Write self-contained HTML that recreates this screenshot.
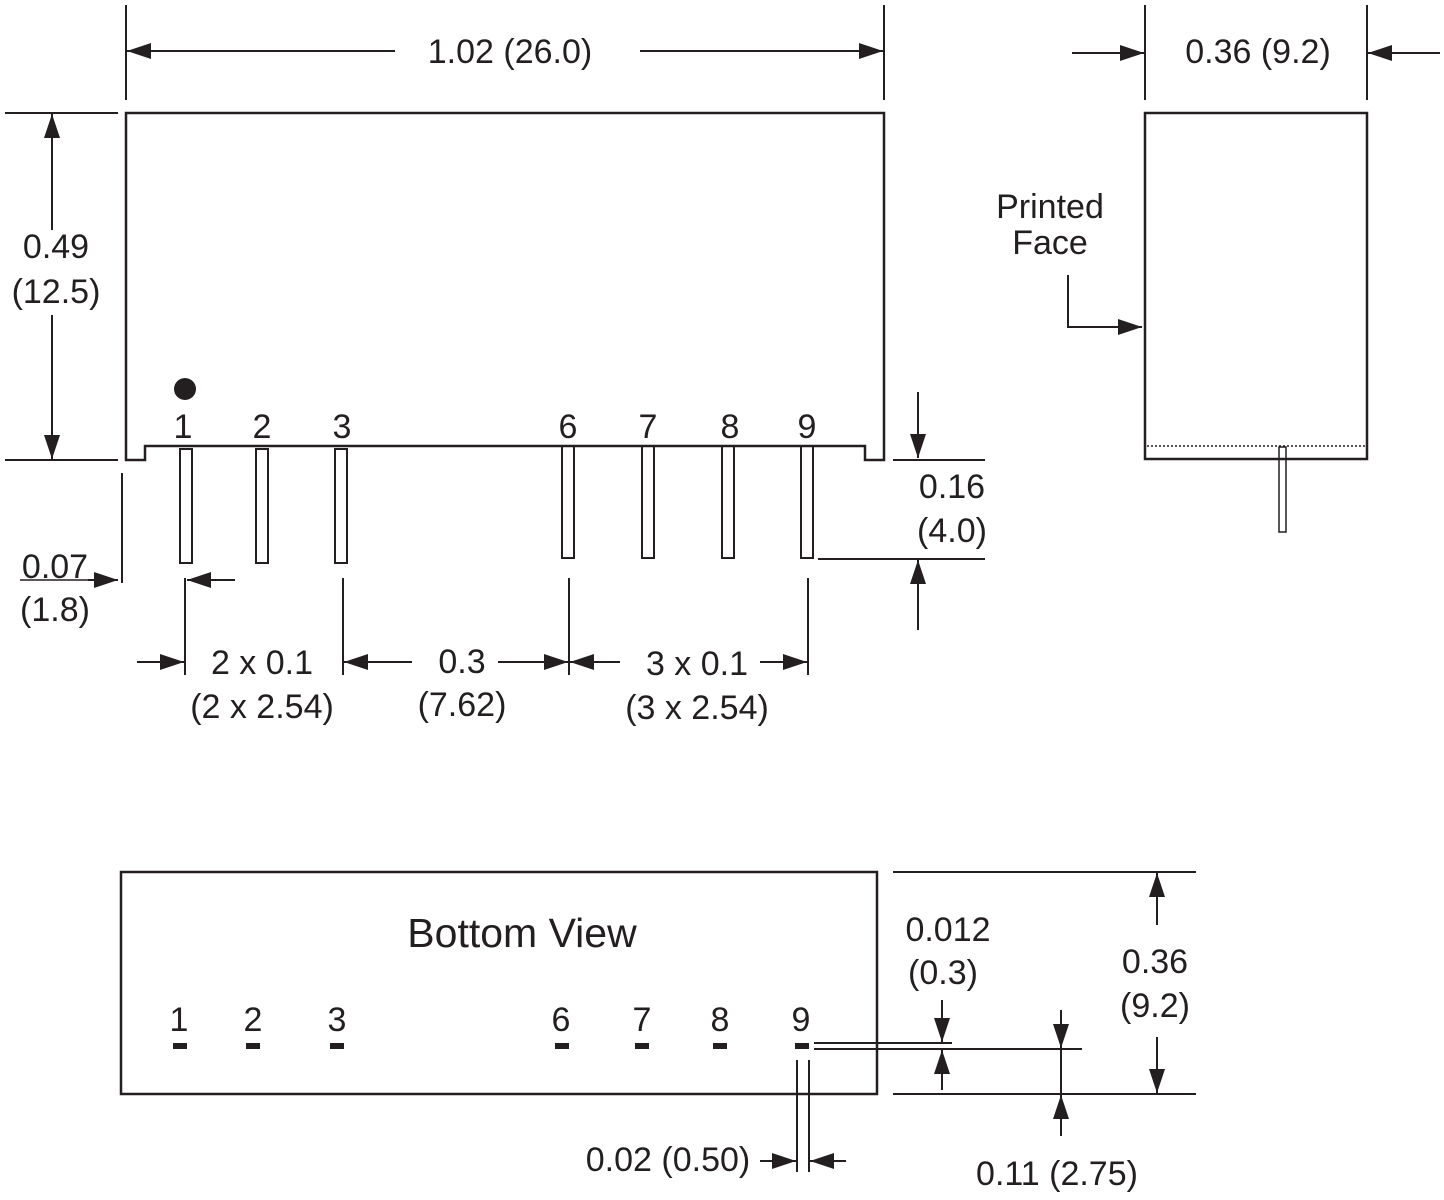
<!DOCTYPE html>
<html><head><style>
html,body{margin:0;padding:0;background:#fff}
svg{display:block}
text{font-family:"Liberation Sans",Arial,sans-serif;font-size:34px;fill:#231f20;text-anchor:middle}
</style></head><body>
<svg width="1444" height="1200" viewBox="0 0 1444 1200" xmlns="http://www.w3.org/2000/svg">
<defs>
<marker id="a" viewBox="0 0 24 16" refX="24" refY="8" markerWidth="24" markerHeight="16" markerUnits="userSpaceOnUse" orient="auto"><path d="M0,0 L24,8 L0,16 Z" fill="#231f20"/></marker>
</defs>
<g stroke="#231f20" stroke-width="2" fill="none">
<path d="M126,460 L126,113 L884,113 L884,460 L865,460 L865,446 L145,446 L145,460 Z" stroke-width="2.5"/>
<rect x="180" y="449" width="12" height="114"/>
<rect x="256" y="449" width="12" height="114"/>
<rect x="335" y="449" width="12" height="114"/>
<rect x="562" y="446" width="12" height="112"/>
<rect x="642" y="446" width="12" height="112"/>
<rect x="722" y="446" width="12" height="112"/>
<rect x="801" y="446" width="12" height="112"/>
<line x1="126" y1="5" x2="126" y2="100"/>
<line x1="884" y1="5" x2="884" y2="100"/>
<line x1="395" y1="51" x2="127" y2="51" marker-end="url(#a)"/>
<line x1="640" y1="51" x2="883" y2="51" marker-end="url(#a)"/>
<line x1="5" y1="113" x2="118" y2="113"/>
<line x1="5" y1="460" x2="118" y2="460"/>
<line x1="52" y1="230" x2="52" y2="114" marker-end="url(#a)"/>
<line x1="52" y1="315" x2="52" y2="459" marker-end="url(#a)"/>
<rect x="1145" y="113" width="222" height="346" stroke-width="2.5"/>
<line x1="1147" y1="446" x2="1365" y2="446" stroke-dasharray="2,2" stroke-width="1.5"/>
<rect x="1279" y="447" width="7" height="85" stroke-width="1.5"/>
<line x1="1145" y1="5" x2="1145" y2="100"/>
<line x1="1367" y1="5" x2="1367" y2="100"/>
<line x1="1072" y1="53" x2="1144" y2="53" marker-end="url(#a)"/>
<line x1="1440" y1="53" x2="1368" y2="53" marker-end="url(#a)"/>
<path d="M1068,275 L1068,327 L1142,327" marker-end="url(#a)"/>
<line x1="918" y1="392" x2="918" y2="458" marker-end="url(#a)"/>
<line x1="893" y1="460" x2="985" y2="460"/>
<line x1="818" y1="559" x2="985" y2="559"/>
<line x1="918" y1="630" x2="918" y2="560" marker-end="url(#a)"/>
<line x1="20" y1="580" x2="90" y2="580" stroke-width="1.5"/>
<line x1="88" y1="580" x2="118" y2="580" marker-end="url(#a)"/>
<line x1="122" y1="473" x2="122" y2="583"/>
<line x1="235" y1="580" x2="187" y2="580" marker-end="url(#a)"/>
<line x1="185" y1="578" x2="185" y2="675"/>
<line x1="343" y1="578" x2="343" y2="675"/>
<line x1="569" y1="578" x2="569" y2="675"/>
<line x1="808" y1="578" x2="808" y2="675"/>
<line x1="137" y1="662" x2="184" y2="662" marker-end="url(#a)"/>
<line x1="412" y1="662" x2="344" y2="662" marker-end="url(#a)"/>
<line x1="498" y1="662" x2="568" y2="662" marker-end="url(#a)"/>
<line x1="620" y1="662" x2="570" y2="662" marker-end="url(#a)"/>
<line x1="760" y1="662" x2="807" y2="662" marker-end="url(#a)"/>
<rect x="121" y="872" width="756" height="222" stroke-width="2.5"/>
<line x1="893" y1="872" x2="1196" y2="872"/>
<line x1="893" y1="1094" x2="1196" y2="1094"/>
<line x1="1157" y1="925" x2="1157" y2="873" marker-end="url(#a)"/>
<line x1="1157" y1="1037" x2="1157" y2="1093" marker-end="url(#a)"/>
<line x1="814" y1="1043" x2="952" y2="1043"/>
<line x1="814" y1="1049" x2="1082" y2="1049"/>
<line x1="942" y1="1000" x2="942" y2="1042" marker-end="url(#a)"/>
<line x1="942" y1="1090" x2="942" y2="1050" marker-end="url(#a)"/>
<line x1="1061" y1="1010" x2="1061" y2="1048" marker-end="url(#a)"/>
<line x1="1061" y1="1049" x2="1061" y2="1094"/>
<line x1="1061" y1="1136" x2="1061" y2="1095" marker-end="url(#a)"/>
<line x1="797" y1="1060" x2="797" y2="1172"/>
<line x1="809" y1="1060" x2="809" y2="1172"/>
<line x1="760" y1="1161" x2="796" y2="1161" marker-end="url(#a)"/>
<line x1="846" y1="1161" x2="810" y2="1161" marker-end="url(#a)"/>
</g>
<g fill="#231f20">
<circle cx="185" cy="389" r="11"/>
<rect x="173" y="1043" width="14" height="6"/>
<rect x="246" y="1043" width="14" height="6"/>
<rect x="330" y="1043" width="14" height="6"/>
<rect x="555" y="1043" width="14" height="6"/>
<rect x="635" y="1043" width="14" height="6"/>
<rect x="713" y="1043" width="14" height="6"/>
<rect x="795" y="1043" width="14" height="6"/>
</g>
<text x="510" y="63">1.02 (26.0)</text>
<text x="56" y="258">0.49</text>
<text x="56" y="303">(12.5)</text>
<text x="1258" y="63">0.36 (9.2)</text>
<text x="1050" y="218">Printed</text>
<text x="1050" y="254">Face</text>
<text x="183" y="438">1</text>
<text x="262" y="438">2</text>
<text x="342" y="438">3</text>
<text x="568" y="438">6</text>
<text x="648" y="438">7</text>
<text x="730" y="438">8</text>
<text x="807" y="438">9</text>
<text x="952" y="498">0.16</text>
<text x="952" y="542">(4.0)</text>
<text x="55" y="578">0.07</text>
<text x="55" y="621">(1.8)</text>
<text x="262" y="674">2 x 0.1</text>
<text x="262" y="718">(2 x 2.54)</text>
<text x="462" y="673">0.3</text>
<text x="462" y="716">(7.62)</text>
<text x="697" y="675">3 x 0.1</text>
<text x="697" y="719">(3 x 2.54)</text>
<text x="522" y="947" style="font-size:41px">Bottom View</text>
<text x="179" y="1031">1</text>
<text x="253" y="1031">2</text>
<text x="337" y="1031">3</text>
<text x="561" y="1031">6</text>
<text x="642" y="1031">7</text>
<text x="720" y="1031">8</text>
<text x="801" y="1031">9</text>
<text x="948" y="941">0.012</text>
<text x="943" y="984">(0.3)</text>
<text x="1155" y="973">0.36</text>
<text x="1155" y="1017">(9.2)</text>
<text x="1057" y="1185">0.11 (2.75)</text>
<text x="668" y="1171">0.02 (0.50)</text>
</svg>
</body></html>
